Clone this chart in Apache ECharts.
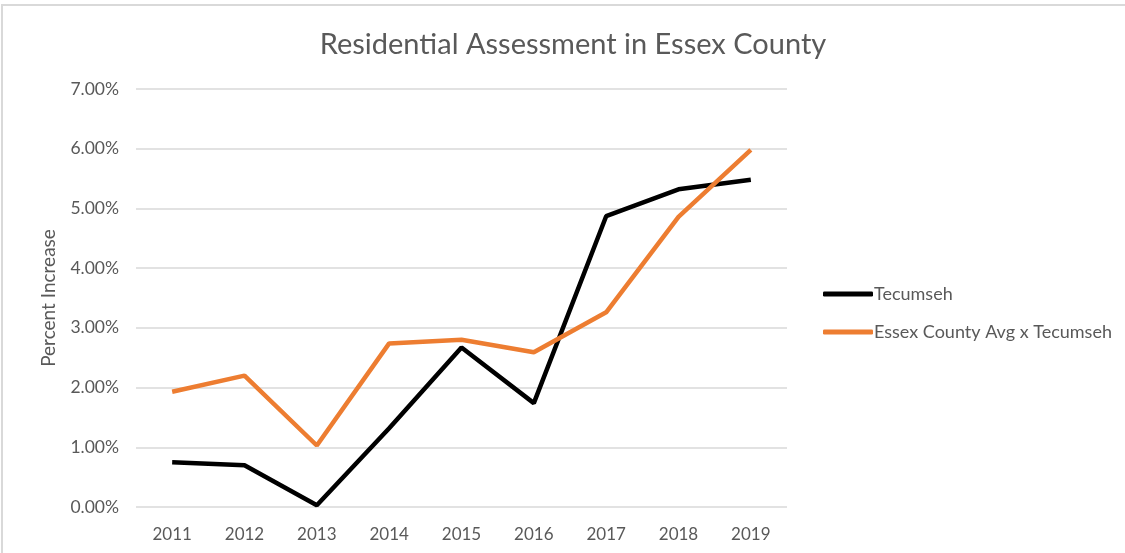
<!DOCTYPE html>
<html>
<head>
<meta charset="utf-8">
<script src="https://cdn.jsdelivr.net/npm/echarts@6/dist/echarts.min.js"></script>
<style>
  html, body { margin: 0; padding: 0; background: #fff; }
  #main { width: 1125px; height: 553px; }
</style>
</head>
<body>
<div id="main"></div>
<script>
var years = ['2011', '2012', '2013', '2014', '2015', '2016', '2017', '2018', '2019'];
var tecumseh = [0.75, 0.70, 0.03, 1.32, 2.67, 1.74, 4.87, 5.32, 5.48];
var essexAvg = [1.93, 2.20, 1.03, 2.74, 2.80, 2.59, 3.26, 4.86, 5.98];

var myChart = echarts.init(document.getElementById('main'));
var font = 'Lato, "Open Sans", sans-serif';

var option = {
  backgroundColor: '#fff',
  animation: false,
  title: {
    text: 'Residential Assessment in Essex County',
    left: 568,
    textAlign: 'center',
    top: 25,
    textStyle: { color: '#595959', fontSize: 29, fontWeight: 'normal', fontFamily: font }
  },
  graphic: [{
    type: 'polyline',
    shape: { points: [[2, 553], [2, 5], [1125, 5]] },
    style: { stroke: '#d9d9d9', lineWidth: 2, fill: null }
  }],
  legend: {
    orient: 'vertical',
    left: 818,
    top: 280,
    itemGap: 20,
    itemWidth: 50,
    itemHeight: 5,
    icon: 'roundRect',
    textStyle: { color: '#595959', fontSize: 18, fontFamily: font, padding: [0, 0, 0, -4] },
    data: ['Tecumseh', 'Essex County Avg x Tecumseh']
  },
  grid: { left: 136, right: 338, top: 89, bottom: 46 },
  xAxis: {
    type: 'category',
    data: years,
    axisLine: { show: false },
    axisTick: { show: false },
    axisLabel: { color: '#595959', fontSize: 17, fontFamily: font, margin: 19 }
  },
  yAxis: {
    type: 'value',
    name: 'Percent Increase',
    nameLocation: 'middle',
    nameGap: 78,
    nameTextStyle: { color: '#595959', fontSize: 19, fontFamily: font },
    min: 0,
    max: 7,
    interval: 1,
    axisLine: { show: false },
    axisTick: { show: false },
    axisLabel: {
      color: '#595959', fontSize: 17.5, fontFamily: font, margin: 17,
      formatter: function (v) { return v.toFixed(2) + '%'; }
    },
    splitLine: { lineStyle: { color: '#d9d9d9', width: 1.5 } }
  },
  series: [
    {
      name: 'Tecumseh',
      type: 'line',
      data: tecumseh,
      symbol: 'none',
      color: '#000000',
      lineStyle: { color: '#000000', width: 4.5 }
    },
    {
      name: 'Essex County Avg x Tecumseh',
      type: 'line',
      data: essexAvg,
      symbol: 'none',
      color: '#ed7d31',
      lineStyle: { color: '#ed7d31', width: 4.5 }
    }
  ]
};

myChart.setOption(option);
</script>
</body>
</html>
